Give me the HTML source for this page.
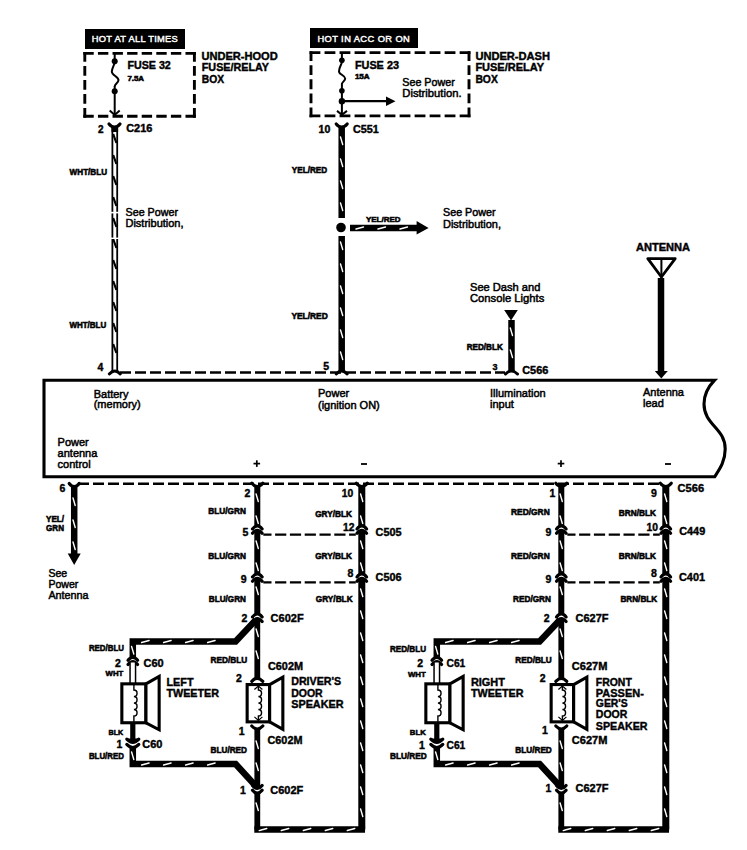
<!DOCTYPE html>
<html><head><meta charset="utf-8"><style>
html,body{margin:0;padding:0;background:#fff;overflow:hidden;}
svg{display:block;font-family:"Liberation Sans", sans-serif;}
</style></head><body>
<svg width="747" height="850" viewBox="0 0 747 850">
<rect width="747" height="850" fill="#fff"/>
<rect x="85" y="29" width="100" height="20" fill="#000"/>
<text x="91.8" y="42.4" font-size="9.3" font-weight="normal" text-anchor="start" fill="#fff" textLength="86" lengthAdjust="spacing" stroke="#fff" stroke-width="0.45" >HOT AT ALL TIMES</text>
<line x1="83.35" y1="53.4" x2="195.85" y2="53.4" stroke="#000" stroke-width="2.9" stroke-linecap="butt" stroke-dasharray="10.39 4.2"/>
<line x1="194.4" y1="51.949999999999996" x2="194.4" y2="117.75" stroke="#000" stroke-width="2.9" stroke-linecap="butt" stroke-dasharray="9.80 4.2"/>
<line x1="83.35" y1="116.3" x2="195.85" y2="116.3" stroke="#000" stroke-width="2.9" stroke-linecap="butt" stroke-dasharray="10.39 4.2"/>
<line x1="84.8" y1="51.949999999999996" x2="84.8" y2="117.75" stroke="#000" stroke-width="2.9" stroke-linecap="butt" stroke-dasharray="9.80 4.2"/>
<line x1="114.7" y1="53.6" x2="114.7" y2="64" stroke="#000" stroke-width="2" stroke-linecap="butt" />
<path d="M114.7,63 C113.5,66 111.8,69 111.8,71.8 C111.8,75 118.5,77 118.5,80 C118.5,83 114.7,84 114.7,86.5" fill="none" stroke="#000" stroke-width="2" stroke-linecap="butt" stroke-linejoin="miter" />
<line x1="114.7" y1="86" x2="114.7" y2="115" stroke="#000" stroke-width="2" stroke-linecap="butt" />
<circle cx="114.7" cy="61.2" r="3"/>
<circle cx="114.7" cy="91.2" r="3"/>
<path d="M109.7,110.5 L114.7,115 L119.7,110.5" fill="none" stroke="#000" stroke-width="2" stroke-linecap="butt" stroke-linejoin="miter" />
<text x="127.4" y="68.9" font-size="10.5" font-weight="bold" text-anchor="start" fill="#000" textLength="43.4" lengthAdjust="spacingAndGlyphs" stroke="#000" stroke-width="0.4" >FUSE 32</text>
<text x="127.4" y="81" font-size="7" font-weight="bold" text-anchor="start" fill="#000" textLength="16.6" lengthAdjust="spacingAndGlyphs" stroke="#000" stroke-width="0.55" >7.5A</text>
<text x="201.4" y="59.7" font-size="10.5" font-weight="bold" text-anchor="start" fill="#000" textLength="76.3" lengthAdjust="spacingAndGlyphs" stroke="#000" stroke-width="0.4" >UNDER-HOOD</text>
<text x="201.8" y="71.1" font-size="10.5" font-weight="bold" text-anchor="start" fill="#000" textLength="67.2" lengthAdjust="spacingAndGlyphs" stroke="#000" stroke-width="0.4" >FUSE/RELAY</text>
<text x="201.8" y="82.5" font-size="10.5" font-weight="bold" text-anchor="start" fill="#000" textLength="22.3" lengthAdjust="spacingAndGlyphs" stroke="#000" stroke-width="0.4" >BOX</text>
<path d="M109.0,124 Q114.5,130.4 120.0,124" fill="none" stroke="#000" stroke-width="3.2" stroke-linecap="round" stroke-linejoin="miter" />
<text x="98" y="132.5" font-size="10" font-weight="bold" text-anchor="start" fill="#000" stroke="#000" stroke-width="0.4" >2</text>
<text x="126.2" y="132.2" font-size="10.5" font-weight="bold" text-anchor="start" fill="#000" textLength="26.2" lengthAdjust="spacingAndGlyphs" stroke="#000" stroke-width="0.4" >C216</text>
<line x1="114.8" y1="127" x2="114.8" y2="371" stroke="#000" stroke-width="6.6" stroke-linecap="butt" />
<line x1="114.8" y1="127" x2="114.8" y2="371" stroke="#fff" stroke-width="3.0" stroke-linecap="butt" />
<line x1="113.2" y1="134" x2="116.39999999999999" y2="143" stroke="#000" stroke-width="2.2" stroke-linecap="butt" />
<line x1="113.2" y1="155" x2="116.39999999999999" y2="164" stroke="#000" stroke-width="2.2" stroke-linecap="butt" />
<line x1="113.2" y1="176" x2="116.39999999999999" y2="185" stroke="#000" stroke-width="2.2" stroke-linecap="butt" />
<line x1="113.2" y1="197" x2="116.39999999999999" y2="206" stroke="#000" stroke-width="2.2" stroke-linecap="butt" />
<line x1="113.2" y1="218" x2="116.39999999999999" y2="227" stroke="#000" stroke-width="2.2" stroke-linecap="butt" />
<line x1="113.2" y1="239" x2="116.39999999999999" y2="248" stroke="#000" stroke-width="2.2" stroke-linecap="butt" />
<line x1="113.2" y1="260" x2="116.39999999999999" y2="269" stroke="#000" stroke-width="2.2" stroke-linecap="butt" />
<line x1="113.2" y1="281" x2="116.39999999999999" y2="290" stroke="#000" stroke-width="2.2" stroke-linecap="butt" />
<line x1="113.2" y1="302" x2="116.39999999999999" y2="311" stroke="#000" stroke-width="2.2" stroke-linecap="butt" />
<line x1="113.2" y1="323" x2="116.39999999999999" y2="332" stroke="#000" stroke-width="2.2" stroke-linecap="butt" />
<line x1="113.2" y1="344" x2="116.39999999999999" y2="353" stroke="#000" stroke-width="2.2" stroke-linecap="butt" />
<line x1="114.8" y1="126" x2="114.8" y2="132" stroke="#000" stroke-width="6.6" stroke-linecap="butt" />
<rect x="110" y="211.8" width="10" height="1.6" fill="#fff"/>
<rect x="110" y="237.6" width="10" height="1.4" fill="#fff"/>
<text x="69.6" y="174.6" font-size="8.5" font-weight="bold" text-anchor="start" fill="#000" textLength="37.5" lengthAdjust="spacingAndGlyphs" stroke="#000" stroke-width="0.55" >WHT/BLU</text>
<text x="69.4" y="327.5" font-size="8.5" font-weight="bold" text-anchor="start" fill="#000" textLength="36.9" lengthAdjust="spacingAndGlyphs" stroke="#000" stroke-width="0.55" >WHT/BLU</text>
<text x="125.5" y="215.7" font-size="11" font-weight="normal" text-anchor="start" fill="#000" textLength="52.5" lengthAdjust="spacingAndGlyphs" stroke="#000" stroke-width="0.5" >See Power</text>
<text x="125.5" y="227.2" font-size="11" font-weight="normal" text-anchor="start" fill="#000" textLength="58" lengthAdjust="spacingAndGlyphs" stroke="#000" stroke-width="0.5" >Distribution,</text>
<rect x="310" y="28" width="108" height="20" fill="#000"/>
<text x="317.4" y="42.2" font-size="9.3" font-weight="normal" text-anchor="start" fill="#fff" textLength="92.4" lengthAdjust="spacing" stroke="#fff" stroke-width="0.45" >HOT IN ACC OR ON</text>
<line x1="309.55" y1="52.6" x2="470.45" y2="52.6" stroke="#000" stroke-width="2.9" stroke-linecap="butt" stroke-dasharray="10.81 4.2"/>
<line x1="469" y1="51.15" x2="469" y2="117.35000000000001" stroke="#000" stroke-width="2.9" stroke-linecap="butt" stroke-dasharray="9.88 4.2"/>
<line x1="309.55" y1="115.9" x2="470.45" y2="115.9" stroke="#000" stroke-width="2.9" stroke-linecap="butt" stroke-dasharray="10.81 4.2"/>
<line x1="311" y1="51.15" x2="311" y2="117.35000000000001" stroke="#000" stroke-width="2.9" stroke-linecap="butt" stroke-dasharray="9.88 4.2"/>
<line x1="341.9" y1="53" x2="341.9" y2="63" stroke="#000" stroke-width="2" stroke-linecap="butt" />
<path d="M341.9,62.5 C341,65 339,68 339,71.4 C339,74.5 345.2,75.5 345.2,78.4 C345.2,81 341.9,82 341.9,84" fill="none" stroke="#000" stroke-width="2" stroke-linecap="butt" stroke-linejoin="miter" />
<line x1="341.9" y1="83.5" x2="341.9" y2="114" stroke="#000" stroke-width="2" stroke-linecap="butt" />
<circle cx="341.9" cy="60.3" r="2.8"/>
<circle cx="341.9" cy="90.8" r="2.8"/>
<circle cx="341.9" cy="101.2" r="3.2"/>
<line x1="342" y1="101.2" x2="388" y2="101.2" stroke="#000" stroke-width="2.3" stroke-linecap="butt" />
<polygon points="386,96.5 395.5,101.2 386,105.9" fill="#000" stroke="none" stroke-width="0" stroke-linejoin="miter"/>
<path d="M337,110.9 L341.9,114.8 L347,110.9" fill="none" stroke="#000" stroke-width="2" stroke-linecap="butt" stroke-linejoin="miter" />
<text x="354.9" y="68.7" font-size="10.5" font-weight="bold" text-anchor="start" fill="#000" textLength="44.1" lengthAdjust="spacingAndGlyphs" stroke="#000" stroke-width="0.4" >FUSE 23</text>
<text x="354.9" y="79.4" font-size="7" font-weight="bold" text-anchor="start" fill="#000" textLength="14.7" lengthAdjust="spacingAndGlyphs" stroke="#000" stroke-width="0.55" >15A</text>
<text x="402.3" y="86.3" font-size="11" font-weight="normal" text-anchor="start" fill="#000" textLength="52.5" lengthAdjust="spacingAndGlyphs" stroke="#000" stroke-width="0.5" >See Power</text>
<text x="402.3" y="97.2" font-size="11" font-weight="normal" text-anchor="start" fill="#000" textLength="59.2" lengthAdjust="spacingAndGlyphs" stroke="#000" stroke-width="0.5" >Distribution.</text>
<text x="475.4" y="59.5" font-size="10.5" font-weight="bold" text-anchor="start" fill="#000" textLength="74.6" lengthAdjust="spacingAndGlyphs" stroke="#000" stroke-width="0.4" >UNDER-DASH</text>
<text x="475.4" y="71.1" font-size="10.5" font-weight="bold" text-anchor="start" fill="#000" textLength="68.6" lengthAdjust="spacingAndGlyphs" stroke="#000" stroke-width="0.4" >FUSE/RELAY</text>
<text x="475.4" y="82.5" font-size="10.5" font-weight="bold" text-anchor="start" fill="#000" textLength="22.4" lengthAdjust="spacingAndGlyphs" stroke="#000" stroke-width="0.4" >BOX</text>
<path d="M336.2,124 Q341.7,130.4 347.2,124" fill="none" stroke="#000" stroke-width="3.2" stroke-linecap="round" stroke-linejoin="miter" />
<text x="318.6" y="133.3" font-size="10" font-weight="bold" text-anchor="start" fill="#000" textLength="11.7" lengthAdjust="spacingAndGlyphs" stroke="#000" stroke-width="0.4" >10</text>
<text x="353" y="132.6" font-size="10.5" font-weight="bold" text-anchor="start" fill="#000" textLength="25.8" lengthAdjust="spacingAndGlyphs" stroke="#000" stroke-width="0.4" >C551</text>
<line x1="341.7" y1="127" x2="341.7" y2="218" stroke="#000" stroke-width="6.5" stroke-linecap="butt" />
<line x1="340.5" y1="137" x2="342.7" y2="144.5" stroke="#fff" stroke-width="1.4" stroke-linecap="round" />
<line x1="340.5" y1="159" x2="342.7" y2="166.5" stroke="#fff" stroke-width="1.4" stroke-linecap="round" />
<line x1="340.5" y1="181" x2="342.7" y2="188.5" stroke="#fff" stroke-width="1.4" stroke-linecap="round" />
<line x1="340.5" y1="203" x2="342.7" y2="210.5" stroke="#fff" stroke-width="1.4" stroke-linecap="round" />
<circle cx="341" cy="227.5" r="4.8"/>
<line x1="341.7" y1="236" x2="341.7" y2="371" stroke="#000" stroke-width="6.5" stroke-linecap="butt" />
<line x1="340.5" y1="242" x2="342.7" y2="249.5" stroke="#fff" stroke-width="1.4" stroke-linecap="round" />
<line x1="340.5" y1="264" x2="342.7" y2="271.5" stroke="#fff" stroke-width="1.4" stroke-linecap="round" />
<line x1="340.5" y1="286" x2="342.7" y2="293.5" stroke="#fff" stroke-width="1.4" stroke-linecap="round" />
<line x1="340.5" y1="308" x2="342.7" y2="315.5" stroke="#fff" stroke-width="1.4" stroke-linecap="round" />
<line x1="340.5" y1="330" x2="342.7" y2="337.5" stroke="#fff" stroke-width="1.4" stroke-linecap="round" />
<line x1="340.5" y1="352" x2="342.7" y2="359.5" stroke="#fff" stroke-width="1.4" stroke-linecap="round" />
<text x="291.8" y="172.5" font-size="8.5" font-weight="bold" text-anchor="start" fill="#000" textLength="35.3" lengthAdjust="spacingAndGlyphs" stroke="#000" stroke-width="0.55" >YEL/RED</text>
<text x="291.4" y="318.9" font-size="8.5" font-weight="bold" text-anchor="start" fill="#000" textLength="36.4" lengthAdjust="spacingAndGlyphs" stroke="#000" stroke-width="0.55" >YEL/RED</text>
<line x1="350" y1="228" x2="418" y2="228" stroke="#000" stroke-width="6.5" stroke-linecap="butt" />
<line x1="356" y1="229.0" x2="363.5" y2="227.0" stroke="#fff" stroke-width="1.4" stroke-linecap="round" />
<line x1="378" y1="229.0" x2="385.5" y2="227.0" stroke="#fff" stroke-width="1.4" stroke-linecap="round" />
<line x1="400" y1="229.0" x2="407.5" y2="227.0" stroke="#fff" stroke-width="1.4" stroke-linecap="round" />
<polygon points="416.6,221 428.6,228 416.6,234.6" fill="#000" stroke="none" stroke-width="0" stroke-linejoin="miter"/>
<text x="366" y="222.3" font-size="8" font-weight="bold" text-anchor="start" fill="#000" textLength="34.5" lengthAdjust="spacingAndGlyphs" stroke="#000" stroke-width="0.55" >YEL/RED</text>
<text x="443" y="216.2" font-size="11" font-weight="normal" text-anchor="start" fill="#000" textLength="52.5" lengthAdjust="spacingAndGlyphs" stroke="#000" stroke-width="0.5" >See Power</text>
<text x="443" y="227.7" font-size="11" font-weight="normal" text-anchor="start" fill="#000" textLength="58" lengthAdjust="spacingAndGlyphs" stroke="#000" stroke-width="0.5" >Distribution,</text>
<text x="470" y="290.7" font-size="11" font-weight="normal" text-anchor="start" fill="#000" textLength="70.3" lengthAdjust="spacingAndGlyphs" stroke="#000" stroke-width="0.5" >See Dash and</text>
<text x="470" y="301.6" font-size="11" font-weight="normal" text-anchor="start" fill="#000" textLength="74.3" lengthAdjust="spacingAndGlyphs" stroke="#000" stroke-width="0.5" >Console Lights</text>
<polygon points="504.2,310.1 517.8,310.1 511,320.4" fill="#000" stroke="none" stroke-width="0" stroke-linejoin="miter"/>
<line x1="511.5" y1="320" x2="511.5" y2="371" stroke="#000" stroke-width="6.5" stroke-linecap="butt" />
<line x1="510.3" y1="328" x2="512.5" y2="335.5" stroke="#fff" stroke-width="1.4" stroke-linecap="round" />
<line x1="510.3" y1="350" x2="512.5" y2="357.5" stroke="#fff" stroke-width="1.4" stroke-linecap="round" />
<text x="466.7" y="349.5" font-size="8.5" font-weight="bold" text-anchor="start" fill="#000" textLength="36.1" lengthAdjust="spacingAndGlyphs" stroke="#000" stroke-width="0.55" >RED/BLK</text>
<text x="492.5" y="369.6" font-size="9" font-weight="bold" text-anchor="start" fill="#000" stroke="#000" stroke-width="0.4" >3</text>
<text x="522.2" y="373.5" font-size="10.5" font-weight="bold" text-anchor="start" fill="#000" textLength="26.2" lengthAdjust="spacingAndGlyphs" stroke="#000" stroke-width="0.4" >C566</text>
<text x="636" y="250.7" font-size="10" font-weight="bold" text-anchor="start" fill="#000" textLength="54" lengthAdjust="spacingAndGlyphs" stroke="#000" stroke-width="0.4" >ANTENNA</text>
<path d="M647.8,258.6 L675.2,258.6 L661.4,277 Z" fill="none" stroke="#000" stroke-width="2.8" stroke-linecap="butt" stroke-linejoin="round" />
<line x1="661.4" y1="258" x2="661.4" y2="278" stroke="#000" stroke-width="2" stroke-linecap="butt" />
<line x1="661" y1="278" x2="661" y2="372" stroke="#000" stroke-width="6.5" stroke-linecap="butt" />
<polygon points="654.8,371 667.8,371 661.3,378.5" fill="#000" stroke="none" stroke-width="0" stroke-linejoin="miter"/>
<line x1="120" y1="372.6" x2="505" y2="372.6" stroke="#000" stroke-width="2.5" stroke-linecap="butt" stroke-dasharray="11 4" stroke-dashoffset="0"/>
<path d="M109.3,374 Q114.8,368 120.3,374" fill="none" stroke="#000" stroke-width="3" stroke-linecap="round" stroke-linejoin="miter" />
<path d="M336.2,374 Q341.7,368 347.2,374" fill="none" stroke="#000" stroke-width="3" stroke-linecap="round" stroke-linejoin="miter" />
<path d="M505.5,374 Q511.5,368 517.5,374" fill="none" stroke="#000" stroke-width="3" stroke-linecap="round" stroke-linejoin="miter" />
<text x="97.5" y="371.2" font-size="10.5" font-weight="bold" text-anchor="start" fill="#000" stroke="#000" stroke-width="0.4" >4</text>
<text x="323.2" y="369.8" font-size="10.5" font-weight="bold" text-anchor="start" fill="#000" stroke="#000" stroke-width="0.4" >5</text>
<path d="M44,380.2 L714.6,380.2 C709,386 704,395 704,404 C704,425 725.2,428 725.2,449 C725.2,462 719,470 714.6,476.8 L44,476.8 Z" fill="none" stroke="#000" stroke-width="3.1" stroke-linecap="butt" stroke-linejoin="miter" />
<text x="93.7" y="397.5" font-size="11" font-weight="normal" text-anchor="start" fill="#000" stroke="#000" stroke-width="0.5" >Battery</text>
<text x="93.7" y="408.3" font-size="11" font-weight="normal" text-anchor="start" fill="#000" stroke="#000" stroke-width="0.5" >(memory)</text>
<text x="318" y="396.7" font-size="11" font-weight="normal" text-anchor="start" fill="#000" stroke="#000" stroke-width="0.5" >Power</text>
<text x="318" y="408.7" font-size="11" font-weight="normal" text-anchor="start" fill="#000" stroke="#000" stroke-width="0.5" >(ignition ON)</text>
<text x="490" y="396.7" font-size="11" font-weight="normal" text-anchor="start" fill="#000" stroke="#000" stroke-width="0.5" >Illumination</text>
<text x="490" y="408.3" font-size="11" font-weight="normal" text-anchor="start" fill="#000" stroke="#000" stroke-width="0.5" >input</text>
<text x="643" y="396" font-size="11" font-weight="normal" text-anchor="start" fill="#000" stroke="#000" stroke-width="0.5" >Antenna</text>
<text x="643" y="407" font-size="11" font-weight="normal" text-anchor="start" fill="#000" stroke="#000" stroke-width="0.5" >lead</text>
<text x="57.6" y="446" font-size="11" font-weight="normal" text-anchor="start" fill="#000" stroke="#000" stroke-width="0.5" >Power</text>
<text x="57.6" y="456.8" font-size="11" font-weight="normal" text-anchor="start" fill="#000" stroke="#000" stroke-width="0.5" >antenna</text>
<text x="57.6" y="467.6" font-size="11" font-weight="normal" text-anchor="start" fill="#000" stroke="#000" stroke-width="0.5" >control</text>
<line x1="253.5" y1="463.6" x2="260.1" y2="463.6" stroke="#000" stroke-width="1.7" stroke-linecap="butt" />
<line x1="256.8" y1="460.3" x2="256.8" y2="466.9" stroke="#000" stroke-width="1.7" stroke-linecap="butt" />
<line x1="361" y1="464" x2="367" y2="464" stroke="#000" stroke-width="1.8" stroke-linecap="butt" />
<line x1="557.7" y1="463.6" x2="564.3" y2="463.6" stroke="#000" stroke-width="1.7" stroke-linecap="butt" />
<line x1="561" y1="460.3" x2="561" y2="466.9" stroke="#000" stroke-width="1.7" stroke-linecap="butt" />
<line x1="665" y1="464" x2="671" y2="464" stroke="#000" stroke-width="1.8" stroke-linecap="butt" />
<line x1="78" y1="483.7" x2="662" y2="483.7" stroke="#000" stroke-width="2.5" stroke-linecap="butt" stroke-dasharray="11 4" stroke-dashoffset="0"/>
<path d="M69.2,483.5 Q74.2,489.9 79.2,483.5" fill="none" stroke="#000" stroke-width="3.2" stroke-linecap="round" stroke-linejoin="miter" />
<line x1="74.2" y1="486" x2="74.2" y2="555" stroke="#000" stroke-width="6.5" stroke-linecap="butt" />
<line x1="73.0" y1="498" x2="75.2" y2="505.5" stroke="#fff" stroke-width="1.4" stroke-linecap="round" />
<line x1="73.0" y1="520" x2="75.2" y2="527.5" stroke="#fff" stroke-width="1.4" stroke-linecap="round" />
<line x1="73.0" y1="542" x2="75.2" y2="549.5" stroke="#fff" stroke-width="1.4" stroke-linecap="round" />
<polygon points="67.7,553.5 80.7,553.5 74.2,565" fill="#000" stroke="none" stroke-width="0" stroke-linejoin="miter"/>
<text x="59.6" y="492.2" font-size="10.5" font-weight="bold" text-anchor="start" fill="#000" stroke="#000" stroke-width="0.4" >6</text>
<text x="46" y="521.5" font-size="8.5" font-weight="bold" text-anchor="start" fill="#000" textLength="18" lengthAdjust="spacingAndGlyphs" stroke="#000" stroke-width="0.55" >YEL/</text>
<text x="46" y="530.8" font-size="8.5" font-weight="bold" text-anchor="start" fill="#000" textLength="18" lengthAdjust="spacingAndGlyphs" stroke="#000" stroke-width="0.55" >GRN</text>
<text x="48.4" y="577" font-size="11" font-weight="normal" text-anchor="start" fill="#000" textLength="18.8" lengthAdjust="spacingAndGlyphs" stroke="#000" stroke-width="0.5" >See</text>
<text x="48.4" y="587.8" font-size="11" font-weight="normal" text-anchor="start" fill="#000" textLength="30" lengthAdjust="spacingAndGlyphs" stroke="#000" stroke-width="0.5" >Power</text>
<text x="48.4" y="599.3" font-size="11" font-weight="normal" text-anchor="start" fill="#000" textLength="40.2" lengthAdjust="spacingAndGlyphs" stroke="#000" stroke-width="0.5" >Antenna</text>
<path d="M251.8,483.3 Q257.3,489.7 262.8,483.3" fill="none" stroke="#000" stroke-width="3.2" stroke-linecap="round" stroke-linejoin="miter" />
<path d="M356.3,483.3 Q361.8,489.7 367.3,483.3" fill="none" stroke="#000" stroke-width="3.2" stroke-linecap="round" stroke-linejoin="miter" />
<line x1="257.3" y1="486" x2="257.3" y2="527" stroke="#000" stroke-width="6" stroke-linecap="butt" />
<line x1="256.1" y1="494" x2="258.3" y2="501.5" stroke="#fff" stroke-width="1.4" stroke-linecap="round" />
<line x1="256.1" y1="516" x2="258.3" y2="523.5" stroke="#fff" stroke-width="1.4" stroke-linecap="round" />
<path d="M252.5,528.9 Q257.3,522.9 262.1,528.9" fill="none" stroke="#000" stroke-width="3.2" stroke-linecap="round" stroke-linejoin="miter" />
<path d="M252.5,533.3 Q257.3,527.3 262.1,533.3" fill="none" stroke="#000" stroke-width="3.2" stroke-linecap="round" stroke-linejoin="miter" />
<line x1="257.3" y1="531" x2="257.3" y2="575" stroke="#000" stroke-width="6" stroke-linecap="butt" />
<line x1="256.1" y1="541" x2="258.3" y2="548.5" stroke="#fff" stroke-width="1.4" stroke-linecap="round" />
<line x1="256.1" y1="563" x2="258.3" y2="570.5" stroke="#fff" stroke-width="1.4" stroke-linecap="round" />
<path d="M252.5,576.9 Q257.3,570.9 262.1,576.9" fill="none" stroke="#000" stroke-width="3.2" stroke-linecap="round" stroke-linejoin="miter" />
<path d="M252.5,581.3 Q257.3,575.3 262.1,581.3" fill="none" stroke="#000" stroke-width="3.2" stroke-linecap="round" stroke-linejoin="miter" />
<line x1="257.3" y1="579" x2="257.3" y2="615" stroke="#000" stroke-width="6" stroke-linecap="butt" />
<line x1="256.1" y1="587" x2="258.3" y2="594.5" stroke="#fff" stroke-width="1.4" stroke-linecap="round" />
<path d="M252.5,616.9 Q257.3,610.9 262.1,616.9" fill="none" stroke="#000" stroke-width="3.2" stroke-linecap="round" stroke-linejoin="miter" />
<path d="M252.5,621.6 Q257.3,615.6 262.1,621.6" fill="none" stroke="#000" stroke-width="3.2" stroke-linecap="round" stroke-linejoin="miter" />
<line x1="361.8" y1="486" x2="361.8" y2="527" stroke="#000" stroke-width="7" stroke-linecap="butt" />
<line x1="360.6" y1="494" x2="362.8" y2="501.5" stroke="#fff" stroke-width="1.4" stroke-linecap="round" />
<line x1="360.6" y1="516" x2="362.8" y2="523.5" stroke="#fff" stroke-width="1.4" stroke-linecap="round" />
<path d="M357.0,528.9 Q361.8,522.9 366.6,528.9" fill="none" stroke="#000" stroke-width="3.2" stroke-linecap="round" stroke-linejoin="miter" />
<path d="M357.0,533.3 Q361.8,527.3 366.6,533.3" fill="none" stroke="#000" stroke-width="3.2" stroke-linecap="round" stroke-linejoin="miter" />
<line x1="361.8" y1="531" x2="361.8" y2="575" stroke="#000" stroke-width="7" stroke-linecap="butt" />
<line x1="360.6" y1="541" x2="362.8" y2="548.5" stroke="#fff" stroke-width="1.4" stroke-linecap="round" />
<line x1="360.6" y1="563" x2="362.8" y2="570.5" stroke="#fff" stroke-width="1.4" stroke-linecap="round" />
<path d="M357.0,576.9 Q361.8,570.9 366.6,576.9" fill="none" stroke="#000" stroke-width="3.2" stroke-linecap="round" stroke-linejoin="miter" />
<path d="M357.0,581.3 Q361.8,575.3 366.6,581.3" fill="none" stroke="#000" stroke-width="3.2" stroke-linecap="round" stroke-linejoin="miter" />
<line x1="263.3" y1="534.6" x2="355.8" y2="534.6" stroke="#000" stroke-width="2.3" stroke-linecap="butt" stroke-dasharray="11.2 3.6" stroke-dashoffset="3"/>
<line x1="263.3" y1="582.3" x2="355.8" y2="582.3" stroke="#000" stroke-width="2.3" stroke-linecap="butt" stroke-dasharray="11.2 3.6" stroke-dashoffset="3"/>
<line x1="361.8" y1="579" x2="361.8" y2="829.5" stroke="#000" stroke-width="7" stroke-linecap="butt" />
<line x1="360.6" y1="589" x2="362.8" y2="596.5" stroke="#fff" stroke-width="1.4" stroke-linecap="round" />
<line x1="360.6" y1="611" x2="362.8" y2="618.5" stroke="#fff" stroke-width="1.4" stroke-linecap="round" />
<line x1="360.6" y1="633" x2="362.8" y2="640.5" stroke="#fff" stroke-width="1.4" stroke-linecap="round" />
<line x1="360.6" y1="655" x2="362.8" y2="662.5" stroke="#fff" stroke-width="1.4" stroke-linecap="round" />
<line x1="360.6" y1="677" x2="362.8" y2="684.5" stroke="#fff" stroke-width="1.4" stroke-linecap="round" />
<line x1="360.6" y1="699" x2="362.8" y2="706.5" stroke="#fff" stroke-width="1.4" stroke-linecap="round" />
<line x1="360.6" y1="721" x2="362.8" y2="728.5" stroke="#fff" stroke-width="1.4" stroke-linecap="round" />
<line x1="360.6" y1="743" x2="362.8" y2="750.5" stroke="#fff" stroke-width="1.4" stroke-linecap="round" />
<line x1="360.6" y1="765" x2="362.8" y2="772.5" stroke="#fff" stroke-width="1.4" stroke-linecap="round" />
<line x1="360.6" y1="787" x2="362.8" y2="794.5" stroke="#fff" stroke-width="1.4" stroke-linecap="round" />
<line x1="360.6" y1="809" x2="362.8" y2="816.5" stroke="#fff" stroke-width="1.4" stroke-linecap="round" />
<line x1="254.3" y1="829.5" x2="365.05" y2="829.5" stroke="#000" stroke-width="6.5" stroke-linecap="butt" />
<line x1="259.3" y1="830.5" x2="266.8" y2="828.5" stroke="#fff" stroke-width="1.4" stroke-linecap="round" />
<line x1="281.3" y1="830.5" x2="288.8" y2="828.5" stroke="#fff" stroke-width="1.4" stroke-linecap="round" />
<line x1="303.3" y1="830.5" x2="310.8" y2="828.5" stroke="#fff" stroke-width="1.4" stroke-linecap="round" />
<line x1="325.3" y1="830.5" x2="332.8" y2="828.5" stroke="#fff" stroke-width="1.4" stroke-linecap="round" />
<line x1="347.3" y1="830.5" x2="354.8" y2="828.5" stroke="#fff" stroke-width="1.4" stroke-linecap="round" />
<line x1="257.3" y1="619" x2="257.3" y2="679" stroke="#000" stroke-width="5.8" stroke-linecap="butt" />
<line x1="256.1" y1="629" x2="258.3" y2="636.5" stroke="#fff" stroke-width="1.4" stroke-linecap="round" />
<line x1="256.1" y1="651" x2="258.3" y2="658.5" stroke="#fff" stroke-width="1.4" stroke-linecap="round" />
<rect x="247.15" y="684.55" width="22.49999999999997" height="37.30000000000007" fill="#fff" stroke="#000" stroke-width="3.1"/>
<polygon points="269.65,684.55 282.84999999999997,677.15 282.84999999999997,729.25 269.65,721.85" fill="#fff" stroke="#000" stroke-width="3.1" stroke-linejoin="miter"/>
<path d="M258.4,685.55 L258.4,690 C262.59999999999997,690 262.59999999999997,696.5 258.4,696.5 C262.59999999999997,696.5 262.59999999999997,703.0 258.4,703.0 C262.59999999999997,703.0 262.59999999999997,709.5 258.4,709.5 C262.59999999999997,709.5 262.59999999999997,716.0 258.4,716.0 L258.4,720.85" fill="none" stroke="#000" stroke-width="1.4" stroke-linecap="butt" stroke-linejoin="miter" />
<path d="M254.39999999999998,689.55 L258.4,686.05 L262.4,689.55" fill="none" stroke="#000" stroke-width="1.2" stroke-linecap="butt" stroke-linejoin="miter" />
<path d="M254.39999999999998,716.85 L258.4,720.35 L262.4,716.85" fill="none" stroke="#000" stroke-width="1.2" stroke-linecap="butt" stroke-linejoin="miter" />
<path d="M251.8,681.3 Q257.3,675.3 262.8,681.3" fill="none" stroke="#000" stroke-width="3.2" stroke-linecap="round" stroke-linejoin="miter" />
<path d="M251.8,726 Q257.3,732 262.8,726" fill="none" stroke="#000" stroke-width="3.2" stroke-linecap="round" stroke-linejoin="miter" />
<line x1="257.3" y1="729" x2="257.3" y2="788" stroke="#000" stroke-width="5.8" stroke-linecap="butt" />
<line x1="256.1" y1="741" x2="258.3" y2="748.5" stroke="#fff" stroke-width="1.4" stroke-linecap="round" />
<line x1="256.1" y1="763" x2="258.3" y2="770.5" stroke="#fff" stroke-width="1.4" stroke-linecap="round" />
<path d="M252.5,785.5 Q257.3,791.5 262.1,785.5" fill="none" stroke="#000" stroke-width="3.2" stroke-linecap="round" stroke-linejoin="miter" />
<path d="M252.5,790.2 Q257.3,796.2 262.1,790.2" fill="none" stroke="#000" stroke-width="3.2" stroke-linecap="round" stroke-linejoin="miter" />
<line x1="257.3" y1="793" x2="257.3" y2="829.5" stroke="#000" stroke-width="5.8" stroke-linecap="butt" />
<line x1="256.1" y1="803" x2="258.3" y2="810.5" stroke="#fff" stroke-width="1.4" stroke-linecap="round" />
<path d="M132.8,658 L132.8,641.5 L235.60000000000002,641.5 L255.8,620" fill="none" stroke="#000" stroke-width="6.5" stroke-linecap="butt" stroke-linejoin="miter" />
<line x1="141.60000000000002" y1="642.5" x2="149.10000000000002" y2="640.5" stroke="#fff" stroke-width="1.4" stroke-linecap="round" />
<line x1="163.60000000000002" y1="642.5" x2="171.10000000000002" y2="640.5" stroke="#fff" stroke-width="1.4" stroke-linecap="round" />
<line x1="185.60000000000002" y1="642.5" x2="193.10000000000002" y2="640.5" stroke="#fff" stroke-width="1.4" stroke-linecap="round" />
<line x1="207.60000000000002" y1="642.5" x2="215.10000000000002" y2="640.5" stroke="#fff" stroke-width="1.4" stroke-linecap="round" />
<line x1="131.60000000000002" y1="646.5" x2="133.8" y2="654.0" stroke="#fff" stroke-width="1.4" stroke-linecap="round" />
<path d="M128.0,660.3 Q132.8,654.3 137.60000000000002,660.3" fill="none" stroke="#000" stroke-width="3.2" stroke-linecap="round" stroke-linejoin="miter" />
<path d="M128.0,664.6 Q132.8,658.6 137.60000000000002,664.6" fill="none" stroke="#000" stroke-width="3.2" stroke-linecap="round" stroke-linejoin="miter" />
<line x1="132.8" y1="662.5" x2="132.8" y2="683" stroke="#000" stroke-width="7" stroke-linecap="butt" />
<line x1="132.8" y1="662.5" x2="132.8" y2="683" stroke="#fff" stroke-width="4" stroke-linecap="butt" />
<rect x="121.85" y="683.8499999999999" width="24.099999999999994" height="38.90000000000009" fill="#fff" stroke="#000" stroke-width="3.1"/>
<polygon points="145.95,683.8499999999999 159.14999999999998,676.4499999999999 159.14999999999998,729.75 145.95,722.75" fill="#fff" stroke="#000" stroke-width="3.1" stroke-linejoin="miter"/>
<path d="M133.89999999999998,684.8499999999999 L133.89999999999998,690 C138.09999999999997,690 138.09999999999997,696.5 133.89999999999998,696.5 C138.09999999999997,696.5 138.09999999999997,703.0 133.89999999999998,703.0 C138.09999999999997,703.0 138.09999999999997,709.5 133.89999999999998,709.5 C138.09999999999997,709.5 138.09999999999997,716.0 133.89999999999998,716.0 L133.89999999999998,721.75" fill="none" stroke="#000" stroke-width="1.4" stroke-linecap="butt" stroke-linejoin="miter" />
<line x1="132.8" y1="724" x2="132.8" y2="740" stroke="#000" stroke-width="5.2" stroke-linecap="butt" />
<polygon points="126.80000000000001,738.5 138.8,738.5 135.8,741.5 132.8,742.5 129.8,741.5" fill="#000" stroke="none" stroke-width="0" stroke-linejoin="miter"/>
<path d="M126.80000000000001,739.0999999999999 Q132.8,745.5 138.8,739.0999999999999" fill="none" stroke="#000" stroke-width="3.2" stroke-linecap="round" stroke-linejoin="miter" />
<path d="M126.80000000000001,744.4 Q132.8,750.8000000000001 138.8,744.4" fill="none" stroke="#000" stroke-width="3.2" stroke-linecap="round" stroke-linejoin="miter" />
<path d="M132.8,746 L132.8,764 L235.60000000000002,764 L255.8,786" fill="none" stroke="#000" stroke-width="6.5" stroke-linecap="butt" stroke-linejoin="miter" />
<line x1="131.60000000000002" y1="752" x2="133.8" y2="759.5" stroke="#fff" stroke-width="1.4" stroke-linecap="round" />
<line x1="141.60000000000002" y1="765.0" x2="149.10000000000002" y2="763.0" stroke="#fff" stroke-width="1.4" stroke-linecap="round" />
<line x1="163.60000000000002" y1="765.0" x2="171.10000000000002" y2="763.0" stroke="#fff" stroke-width="1.4" stroke-linecap="round" />
<line x1="185.60000000000002" y1="765.0" x2="193.10000000000002" y2="763.0" stroke="#fff" stroke-width="1.4" stroke-linecap="round" />
<line x1="207.60000000000002" y1="765.0" x2="215.10000000000002" y2="763.0" stroke="#fff" stroke-width="1.4" stroke-linecap="round" />
<path d="M555.8,483.3 Q561.3,489.7 566.8,483.3" fill="none" stroke="#000" stroke-width="3.2" stroke-linecap="round" stroke-linejoin="miter" />
<path d="M660.3,483.3 Q665.8,489.7 671.3,483.3" fill="none" stroke="#000" stroke-width="3.2" stroke-linecap="round" stroke-linejoin="miter" />
<line x1="561.3" y1="486" x2="561.3" y2="527" stroke="#000" stroke-width="6" stroke-linecap="butt" />
<line x1="560.0999999999999" y1="494" x2="562.3" y2="501.5" stroke="#fff" stroke-width="1.4" stroke-linecap="round" />
<line x1="560.0999999999999" y1="516" x2="562.3" y2="523.5" stroke="#fff" stroke-width="1.4" stroke-linecap="round" />
<path d="M556.5,528.9 Q561.3,522.9 566.0999999999999,528.9" fill="none" stroke="#000" stroke-width="3.2" stroke-linecap="round" stroke-linejoin="miter" />
<path d="M556.5,533.3 Q561.3,527.3 566.0999999999999,533.3" fill="none" stroke="#000" stroke-width="3.2" stroke-linecap="round" stroke-linejoin="miter" />
<line x1="561.3" y1="531" x2="561.3" y2="575" stroke="#000" stroke-width="6" stroke-linecap="butt" />
<line x1="560.0999999999999" y1="541" x2="562.3" y2="548.5" stroke="#fff" stroke-width="1.4" stroke-linecap="round" />
<line x1="560.0999999999999" y1="563" x2="562.3" y2="570.5" stroke="#fff" stroke-width="1.4" stroke-linecap="round" />
<path d="M556.5,576.9 Q561.3,570.9 566.0999999999999,576.9" fill="none" stroke="#000" stroke-width="3.2" stroke-linecap="round" stroke-linejoin="miter" />
<path d="M556.5,581.3 Q561.3,575.3 566.0999999999999,581.3" fill="none" stroke="#000" stroke-width="3.2" stroke-linecap="round" stroke-linejoin="miter" />
<line x1="561.3" y1="579" x2="561.3" y2="615" stroke="#000" stroke-width="6" stroke-linecap="butt" />
<line x1="560.0999999999999" y1="587" x2="562.3" y2="594.5" stroke="#fff" stroke-width="1.4" stroke-linecap="round" />
<path d="M556.5,616.9 Q561.3,610.9 566.0999999999999,616.9" fill="none" stroke="#000" stroke-width="3.2" stroke-linecap="round" stroke-linejoin="miter" />
<path d="M556.5,621.6 Q561.3,615.6 566.0999999999999,621.6" fill="none" stroke="#000" stroke-width="3.2" stroke-linecap="round" stroke-linejoin="miter" />
<line x1="665.8" y1="486" x2="665.8" y2="527" stroke="#000" stroke-width="7" stroke-linecap="butt" />
<line x1="664.5999999999999" y1="494" x2="666.8" y2="501.5" stroke="#fff" stroke-width="1.4" stroke-linecap="round" />
<line x1="664.5999999999999" y1="516" x2="666.8" y2="523.5" stroke="#fff" stroke-width="1.4" stroke-linecap="round" />
<path d="M661.0,528.9 Q665.8,522.9 670.5999999999999,528.9" fill="none" stroke="#000" stroke-width="3.2" stroke-linecap="round" stroke-linejoin="miter" />
<path d="M661.0,533.3 Q665.8,527.3 670.5999999999999,533.3" fill="none" stroke="#000" stroke-width="3.2" stroke-linecap="round" stroke-linejoin="miter" />
<line x1="665.8" y1="531" x2="665.8" y2="575" stroke="#000" stroke-width="7" stroke-linecap="butt" />
<line x1="664.5999999999999" y1="541" x2="666.8" y2="548.5" stroke="#fff" stroke-width="1.4" stroke-linecap="round" />
<line x1="664.5999999999999" y1="563" x2="666.8" y2="570.5" stroke="#fff" stroke-width="1.4" stroke-linecap="round" />
<path d="M661.0,576.9 Q665.8,570.9 670.5999999999999,576.9" fill="none" stroke="#000" stroke-width="3.2" stroke-linecap="round" stroke-linejoin="miter" />
<path d="M661.0,581.3 Q665.8,575.3 670.5999999999999,581.3" fill="none" stroke="#000" stroke-width="3.2" stroke-linecap="round" stroke-linejoin="miter" />
<line x1="567.3" y1="534.6" x2="659.8" y2="534.6" stroke="#000" stroke-width="2.3" stroke-linecap="butt" stroke-dasharray="11.2 3.6" stroke-dashoffset="3"/>
<line x1="567.3" y1="582.3" x2="659.8" y2="582.3" stroke="#000" stroke-width="2.3" stroke-linecap="butt" stroke-dasharray="11.2 3.6" stroke-dashoffset="3"/>
<line x1="665.8" y1="579" x2="665.8" y2="829.5" stroke="#000" stroke-width="7" stroke-linecap="butt" />
<line x1="664.5999999999999" y1="589" x2="666.8" y2="596.5" stroke="#fff" stroke-width="1.4" stroke-linecap="round" />
<line x1="664.5999999999999" y1="611" x2="666.8" y2="618.5" stroke="#fff" stroke-width="1.4" stroke-linecap="round" />
<line x1="664.5999999999999" y1="633" x2="666.8" y2="640.5" stroke="#fff" stroke-width="1.4" stroke-linecap="round" />
<line x1="664.5999999999999" y1="655" x2="666.8" y2="662.5" stroke="#fff" stroke-width="1.4" stroke-linecap="round" />
<line x1="664.5999999999999" y1="677" x2="666.8" y2="684.5" stroke="#fff" stroke-width="1.4" stroke-linecap="round" />
<line x1="664.5999999999999" y1="699" x2="666.8" y2="706.5" stroke="#fff" stroke-width="1.4" stroke-linecap="round" />
<line x1="664.5999999999999" y1="721" x2="666.8" y2="728.5" stroke="#fff" stroke-width="1.4" stroke-linecap="round" />
<line x1="664.5999999999999" y1="743" x2="666.8" y2="750.5" stroke="#fff" stroke-width="1.4" stroke-linecap="round" />
<line x1="664.5999999999999" y1="765" x2="666.8" y2="772.5" stroke="#fff" stroke-width="1.4" stroke-linecap="round" />
<line x1="664.5999999999999" y1="787" x2="666.8" y2="794.5" stroke="#fff" stroke-width="1.4" stroke-linecap="round" />
<line x1="664.5999999999999" y1="809" x2="666.8" y2="816.5" stroke="#fff" stroke-width="1.4" stroke-linecap="round" />
<line x1="558.3" y1="829.5" x2="669.05" y2="829.5" stroke="#000" stroke-width="6.5" stroke-linecap="butt" />
<line x1="563.3" y1="830.5" x2="570.8" y2="828.5" stroke="#fff" stroke-width="1.4" stroke-linecap="round" />
<line x1="585.3" y1="830.5" x2="592.8" y2="828.5" stroke="#fff" stroke-width="1.4" stroke-linecap="round" />
<line x1="607.3" y1="830.5" x2="614.8" y2="828.5" stroke="#fff" stroke-width="1.4" stroke-linecap="round" />
<line x1="629.3" y1="830.5" x2="636.8" y2="828.5" stroke="#fff" stroke-width="1.4" stroke-linecap="round" />
<line x1="651.3" y1="830.5" x2="658.8" y2="828.5" stroke="#fff" stroke-width="1.4" stroke-linecap="round" />
<line x1="561.3" y1="619" x2="561.3" y2="679" stroke="#000" stroke-width="5.8" stroke-linecap="butt" />
<line x1="560.0999999999999" y1="629" x2="562.3" y2="636.5" stroke="#fff" stroke-width="1.4" stroke-linecap="round" />
<line x1="560.0999999999999" y1="651" x2="562.3" y2="658.5" stroke="#fff" stroke-width="1.4" stroke-linecap="round" />
<rect x="551.15" y="684.55" width="22.500000000000114" height="37.30000000000007" fill="#fff" stroke="#000" stroke-width="3.1"/>
<polygon points="573.6500000000001,684.55 586.85,677.15 586.85,729.25 573.6500000000001,721.85" fill="#fff" stroke="#000" stroke-width="3.1" stroke-linejoin="miter"/>
<path d="M562.4000000000001,685.55 L562.4000000000001,690 C566.6000000000001,690 566.6000000000001,696.5 562.4000000000001,696.5 C566.6000000000001,696.5 566.6000000000001,703.0 562.4000000000001,703.0 C566.6000000000001,703.0 566.6000000000001,709.5 562.4000000000001,709.5 C566.6000000000001,709.5 566.6000000000001,716.0 562.4000000000001,716.0 L562.4000000000001,720.85" fill="none" stroke="#000" stroke-width="1.4" stroke-linecap="butt" stroke-linejoin="miter" />
<path d="M558.4000000000001,689.55 L562.4000000000001,686.05 L566.4000000000001,689.55" fill="none" stroke="#000" stroke-width="1.2" stroke-linecap="butt" stroke-linejoin="miter" />
<path d="M558.4000000000001,716.85 L562.4000000000001,720.35 L566.4000000000001,716.85" fill="none" stroke="#000" stroke-width="1.2" stroke-linecap="butt" stroke-linejoin="miter" />
<path d="M555.8,681.3 Q561.3,675.3 566.8,681.3" fill="none" stroke="#000" stroke-width="3.2" stroke-linecap="round" stroke-linejoin="miter" />
<path d="M555.8,726 Q561.3,732 566.8,726" fill="none" stroke="#000" stroke-width="3.2" stroke-linecap="round" stroke-linejoin="miter" />
<line x1="561.3" y1="729" x2="561.3" y2="788" stroke="#000" stroke-width="5.8" stroke-linecap="butt" />
<line x1="560.0999999999999" y1="741" x2="562.3" y2="748.5" stroke="#fff" stroke-width="1.4" stroke-linecap="round" />
<line x1="560.0999999999999" y1="763" x2="562.3" y2="770.5" stroke="#fff" stroke-width="1.4" stroke-linecap="round" />
<path d="M556.5,785.5 Q561.3,791.5 566.0999999999999,785.5" fill="none" stroke="#000" stroke-width="3.2" stroke-linecap="round" stroke-linejoin="miter" />
<path d="M556.5,790.2 Q561.3,796.2 566.0999999999999,790.2" fill="none" stroke="#000" stroke-width="3.2" stroke-linecap="round" stroke-linejoin="miter" />
<line x1="561.3" y1="793" x2="561.3" y2="829.5" stroke="#000" stroke-width="5.8" stroke-linecap="butt" />
<line x1="560.0999999999999" y1="803" x2="562.3" y2="810.5" stroke="#fff" stroke-width="1.4" stroke-linecap="round" />
<path d="M436.8,658 L436.8,641.5 L539.5999999999999,641.5 L559.8,620" fill="none" stroke="#000" stroke-width="6.5" stroke-linecap="butt" stroke-linejoin="miter" />
<line x1="445.6" y1="642.5" x2="453.1" y2="640.5" stroke="#fff" stroke-width="1.4" stroke-linecap="round" />
<line x1="467.6" y1="642.5" x2="475.1" y2="640.5" stroke="#fff" stroke-width="1.4" stroke-linecap="round" />
<line x1="489.6" y1="642.5" x2="497.1" y2="640.5" stroke="#fff" stroke-width="1.4" stroke-linecap="round" />
<line x1="511.6" y1="642.5" x2="519.1" y2="640.5" stroke="#fff" stroke-width="1.4" stroke-linecap="round" />
<line x1="435.6" y1="646.5" x2="437.8" y2="654.0" stroke="#fff" stroke-width="1.4" stroke-linecap="round" />
<path d="M432.0,660.3 Q436.8,654.3 441.6,660.3" fill="none" stroke="#000" stroke-width="3.2" stroke-linecap="round" stroke-linejoin="miter" />
<path d="M432.0,664.6 Q436.8,658.6 441.6,664.6" fill="none" stroke="#000" stroke-width="3.2" stroke-linecap="round" stroke-linejoin="miter" />
<line x1="436.8" y1="662.5" x2="436.8" y2="683" stroke="#000" stroke-width="7" stroke-linecap="butt" />
<line x1="436.8" y1="662.5" x2="436.8" y2="683" stroke="#fff" stroke-width="4" stroke-linecap="butt" />
<rect x="425.85" y="683.8499999999999" width="24.099999999999966" height="38.90000000000009" fill="#fff" stroke="#000" stroke-width="3.1"/>
<polygon points="449.95,683.8499999999999 463.15,676.4499999999999 463.15,729.75 449.95,722.75" fill="#fff" stroke="#000" stroke-width="3.1" stroke-linejoin="miter"/>
<path d="M437.9,684.8499999999999 L437.9,690 C442.09999999999997,690 442.09999999999997,696.5 437.9,696.5 C442.09999999999997,696.5 442.09999999999997,703.0 437.9,703.0 C442.09999999999997,703.0 442.09999999999997,709.5 437.9,709.5 C442.09999999999997,709.5 442.09999999999997,716.0 437.9,716.0 L437.9,721.75" fill="none" stroke="#000" stroke-width="1.4" stroke-linecap="butt" stroke-linejoin="miter" />
<line x1="436.8" y1="724" x2="436.8" y2="740" stroke="#000" stroke-width="5.2" stroke-linecap="butt" />
<polygon points="430.8,738.5 442.8,738.5 439.8,741.5 436.8,742.5 433.8,741.5" fill="#000" stroke="none" stroke-width="0" stroke-linejoin="miter"/>
<path d="M430.8,739.0999999999999 Q436.8,745.5 442.8,739.0999999999999" fill="none" stroke="#000" stroke-width="3.2" stroke-linecap="round" stroke-linejoin="miter" />
<path d="M430.8,744.4 Q436.8,750.8000000000001 442.8,744.4" fill="none" stroke="#000" stroke-width="3.2" stroke-linecap="round" stroke-linejoin="miter" />
<path d="M436.8,746 L436.8,764 L539.5999999999999,764 L559.8,786" fill="none" stroke="#000" stroke-width="6.5" stroke-linecap="butt" stroke-linejoin="miter" />
<line x1="435.6" y1="752" x2="437.8" y2="759.5" stroke="#fff" stroke-width="1.4" stroke-linecap="round" />
<line x1="445.6" y1="765.0" x2="453.1" y2="763.0" stroke="#fff" stroke-width="1.4" stroke-linecap="round" />
<line x1="467.6" y1="765.0" x2="475.1" y2="763.0" stroke="#fff" stroke-width="1.4" stroke-linecap="round" />
<line x1="489.6" y1="765.0" x2="497.1" y2="763.0" stroke="#fff" stroke-width="1.4" stroke-linecap="round" />
<line x1="511.6" y1="765.0" x2="519.1" y2="763.0" stroke="#fff" stroke-width="1.4" stroke-linecap="round" />
<text x="244.5" y="497.2" font-size="10.5" font-weight="bold" text-anchor="start" fill="#000" stroke="#000" stroke-width="0.4" >2</text>
<text x="341.7" y="497.2" font-size="10.5" font-weight="bold" text-anchor="start" fill="#000" textLength="11.5" lengthAdjust="spacingAndGlyphs" stroke="#000" stroke-width="0.4" >10</text>
<text x="208.3" y="514.4" font-size="8.5" font-weight="bold" text-anchor="start" fill="#000" textLength="37.7" lengthAdjust="spacingAndGlyphs" stroke="#000" stroke-width="0.55" >BLU/GRN</text>
<text x="315.2" y="516.8" font-size="8.5" font-weight="bold" text-anchor="start" fill="#000" textLength="36.8" lengthAdjust="spacingAndGlyphs" stroke="#000" stroke-width="0.55" >GRY/BLK</text>
<text x="242.4" y="535.5" font-size="10.5" font-weight="bold" text-anchor="start" fill="#000" stroke="#000" stroke-width="0.4" >5</text>
<text x="343" y="531" font-size="10.5" font-weight="bold" text-anchor="start" fill="#000" textLength="11.5" lengthAdjust="spacingAndGlyphs" stroke="#000" stroke-width="0.4" >12</text>
<text x="375.6" y="535.5" font-size="10.5" font-weight="bold" text-anchor="start" fill="#000" textLength="26" lengthAdjust="spacingAndGlyphs" stroke="#000" stroke-width="0.4" >C505</text>
<text x="208.3" y="558.6" font-size="8.5" font-weight="bold" text-anchor="start" fill="#000" textLength="37.7" lengthAdjust="spacingAndGlyphs" stroke="#000" stroke-width="0.55" >BLU/GRN</text>
<text x="315.2" y="558.6" font-size="8.5" font-weight="bold" text-anchor="start" fill="#000" textLength="36.8" lengthAdjust="spacingAndGlyphs" stroke="#000" stroke-width="0.55" >GRY/BLK</text>
<text x="240.7" y="582.5" font-size="10.5" font-weight="bold" text-anchor="start" fill="#000" stroke="#000" stroke-width="0.4" >9</text>
<text x="347.6" y="576.5" font-size="10.5" font-weight="bold" text-anchor="start" fill="#000" stroke="#000" stroke-width="0.4" >8</text>
<text x="375.6" y="581" font-size="10.5" font-weight="bold" text-anchor="start" fill="#000" textLength="26" lengthAdjust="spacingAndGlyphs" stroke="#000" stroke-width="0.4" >C506</text>
<text x="208.8" y="601.9" font-size="8.5" font-weight="bold" text-anchor="start" fill="#000" textLength="37.2" lengthAdjust="spacingAndGlyphs" stroke="#000" stroke-width="0.55" >BLU/GRN</text>
<text x="315.8" y="601.9" font-size="8.5" font-weight="bold" text-anchor="start" fill="#000" textLength="36.8" lengthAdjust="spacingAndGlyphs" stroke="#000" stroke-width="0.55" >GRY/BLK</text>
<text x="241.5" y="621.5" font-size="10.5" font-weight="bold" text-anchor="start" fill="#000" stroke="#000" stroke-width="0.4" >2</text>
<text x="270.6" y="622" font-size="10.5" font-weight="bold" text-anchor="start" fill="#000" textLength="33" lengthAdjust="spacingAndGlyphs" stroke="#000" stroke-width="0.4" >C602F</text>
<text x="88.9" y="651" font-size="8.5" font-weight="bold" text-anchor="start" fill="#000" textLength="35" lengthAdjust="spacingAndGlyphs" stroke="#000" stroke-width="0.55" >RED/BLU</text>
<text x="115" y="666.5" font-size="10.5" font-weight="bold" text-anchor="start" fill="#000" stroke="#000" stroke-width="0.4" >2</text>
<text x="143.5" y="667" font-size="10.5" font-weight="bold" text-anchor="start" fill="#000" textLength="20.2" lengthAdjust="spacingAndGlyphs" stroke="#000" stroke-width="0.4" >C60</text>
<text x="105.6" y="676.3" font-size="8" font-weight="bold" text-anchor="start" fill="#000" textLength="17.8" lengthAdjust="spacingAndGlyphs" stroke="#000" stroke-width="0.55" >WHT</text>
<text x="166.5" y="686" font-size="11" font-weight="bold" text-anchor="start" fill="#000" textLength="27" lengthAdjust="spacingAndGlyphs" stroke="#000" stroke-width="0.4" >LEFT</text>
<text x="166.5" y="696.8" font-size="11" font-weight="bold" text-anchor="start" fill="#000" textLength="52.5" lengthAdjust="spacingAndGlyphs" stroke="#000" stroke-width="0.4" >TWEETER</text>
<text x="108.5" y="735.2" font-size="8" font-weight="bold" text-anchor="start" fill="#000" textLength="14.8" lengthAdjust="spacingAndGlyphs" stroke="#000" stroke-width="0.55" >BLK</text>
<text x="116.5" y="748" font-size="10.5" font-weight="bold" text-anchor="start" fill="#000" stroke="#000" stroke-width="0.4" >1</text>
<text x="142.3" y="748.2" font-size="10.5" font-weight="bold" text-anchor="start" fill="#000" textLength="20.2" lengthAdjust="spacingAndGlyphs" stroke="#000" stroke-width="0.4" >C60</text>
<text x="88.9" y="759.2" font-size="8.5" font-weight="bold" text-anchor="start" fill="#000" textLength="35" lengthAdjust="spacingAndGlyphs" stroke="#000" stroke-width="0.55" >BLU/RED</text>
<text x="210.6" y="663.2" font-size="8.5" font-weight="bold" text-anchor="start" fill="#000" textLength="36.7" lengthAdjust="spacingAndGlyphs" stroke="#000" stroke-width="0.55" >RED/BLU</text>
<text x="268" y="670" font-size="10.5" font-weight="bold" text-anchor="start" fill="#000" textLength="35" lengthAdjust="spacingAndGlyphs" stroke="#000" stroke-width="0.4" >C602M</text>
<text x="236" y="681.5" font-size="10.5" font-weight="bold" text-anchor="start" fill="#000" stroke="#000" stroke-width="0.4" >2</text>
<text x="291.2" y="685.2" font-size="11" font-weight="bold" text-anchor="start" fill="#000" textLength="50" lengthAdjust="spacingAndGlyphs" stroke="#000" stroke-width="0.4" >DRIVER'S</text>
<text x="291.2" y="696.5" font-size="11" font-weight="bold" text-anchor="start" fill="#000" textLength="31.5" lengthAdjust="spacingAndGlyphs" stroke="#000" stroke-width="0.4" >DOOR</text>
<text x="291.2" y="707.8" font-size="11" font-weight="bold" text-anchor="start" fill="#000" textLength="52.4" lengthAdjust="spacingAndGlyphs" stroke="#000" stroke-width="0.4" >SPEAKER</text>
<text x="238.7" y="734.7" font-size="10.5" font-weight="bold" text-anchor="start" fill="#000" stroke="#000" stroke-width="0.4" >1</text>
<text x="267.5" y="744" font-size="10.5" font-weight="bold" text-anchor="start" fill="#000" textLength="35" lengthAdjust="spacingAndGlyphs" stroke="#000" stroke-width="0.4" >C602M</text>
<text x="210.6" y="753.2" font-size="8.5" font-weight="bold" text-anchor="start" fill="#000" textLength="36.4" lengthAdjust="spacingAndGlyphs" stroke="#000" stroke-width="0.55" >BLU/RED</text>
<text x="240" y="793.7" font-size="10.5" font-weight="bold" text-anchor="start" fill="#000" stroke="#000" stroke-width="0.4" >1</text>
<text x="270.3" y="794" font-size="10.5" font-weight="bold" text-anchor="start" fill="#000" textLength="33" lengthAdjust="spacingAndGlyphs" stroke="#000" stroke-width="0.4" >C602F</text>
<text x="549.5" y="496.6" font-size="10.5" font-weight="bold" text-anchor="start" fill="#000" stroke="#000" stroke-width="0.4" >1</text>
<text x="651" y="496.6" font-size="10.5" font-weight="bold" text-anchor="start" fill="#000" stroke="#000" stroke-width="0.4" >9</text>
<text x="677.6" y="492.2" font-size="10.5" font-weight="bold" text-anchor="start" fill="#000" textLength="26.5" lengthAdjust="spacingAndGlyphs" stroke="#000" stroke-width="0.4" >C566</text>
<text x="511" y="515" font-size="8.5" font-weight="bold" text-anchor="start" fill="#000" textLength="38.7" lengthAdjust="spacingAndGlyphs" stroke="#000" stroke-width="0.55" >RED/GRN</text>
<text x="618.8" y="515.9" font-size="8.5" font-weight="bold" text-anchor="start" fill="#000" textLength="37.2" lengthAdjust="spacingAndGlyphs" stroke="#000" stroke-width="0.55" >BRN/BLK</text>
<text x="545.5" y="536.1" font-size="10.5" font-weight="bold" text-anchor="start" fill="#000" stroke="#000" stroke-width="0.4" >9</text>
<text x="646.4" y="531.3" font-size="10.5" font-weight="bold" text-anchor="start" fill="#000" textLength="11.5" lengthAdjust="spacingAndGlyphs" stroke="#000" stroke-width="0.4" >10</text>
<text x="679.2" y="534.6" font-size="10.5" font-weight="bold" text-anchor="start" fill="#000" textLength="26" lengthAdjust="spacingAndGlyphs" stroke="#000" stroke-width="0.4" >C449</text>
<text x="511" y="559.2" font-size="8.5" font-weight="bold" text-anchor="start" fill="#000" textLength="38.7" lengthAdjust="spacingAndGlyphs" stroke="#000" stroke-width="0.55" >RED/GRN</text>
<text x="618.8" y="559.2" font-size="8.5" font-weight="bold" text-anchor="start" fill="#000" textLength="37.2" lengthAdjust="spacingAndGlyphs" stroke="#000" stroke-width="0.55" >BRN/BLK</text>
<text x="545.5" y="582.7" font-size="10.5" font-weight="bold" text-anchor="start" fill="#000" stroke="#000" stroke-width="0.4" >9</text>
<text x="651" y="577" font-size="10.5" font-weight="bold" text-anchor="start" fill="#000" stroke="#000" stroke-width="0.4" >8</text>
<text x="679" y="581.1" font-size="10.5" font-weight="bold" text-anchor="start" fill="#000" textLength="26" lengthAdjust="spacingAndGlyphs" stroke="#000" stroke-width="0.4" >C401</text>
<text x="513" y="602.2" font-size="8.5" font-weight="bold" text-anchor="start" fill="#000" textLength="38" lengthAdjust="spacingAndGlyphs" stroke="#000" stroke-width="0.55" >RED/GRN</text>
<text x="620.4" y="602.2" font-size="8.5" font-weight="bold" text-anchor="start" fill="#000" textLength="36.8" lengthAdjust="spacingAndGlyphs" stroke="#000" stroke-width="0.55" >BRN/BLK</text>
<text x="543.8" y="621.5" font-size="10.5" font-weight="bold" text-anchor="start" fill="#000" stroke="#000" stroke-width="0.4" >2</text>
<text x="575.5" y="622" font-size="10.5" font-weight="bold" text-anchor="start" fill="#000" textLength="33" lengthAdjust="spacingAndGlyphs" stroke="#000" stroke-width="0.4" >C627F</text>
<text x="390" y="651.5" font-size="8.5" font-weight="bold" text-anchor="start" fill="#000" textLength="36" lengthAdjust="spacingAndGlyphs" stroke="#000" stroke-width="0.55" >RED/BLU</text>
<text x="417.3" y="666.8" font-size="10.5" font-weight="bold" text-anchor="start" fill="#000" stroke="#000" stroke-width="0.4" >2</text>
<text x="446.5" y="667" font-size="10.5" font-weight="bold" text-anchor="start" fill="#000" textLength="18.8" lengthAdjust="spacingAndGlyphs" stroke="#000" stroke-width="0.4" >C61</text>
<text x="407.9" y="676.8" font-size="8" font-weight="bold" text-anchor="start" fill="#000" textLength="17.9" lengthAdjust="spacingAndGlyphs" stroke="#000" stroke-width="0.55" >WHT</text>
<text x="470.9" y="685.9" font-size="11" font-weight="bold" text-anchor="start" fill="#000" textLength="34" lengthAdjust="spacingAndGlyphs" stroke="#000" stroke-width="0.4" >RIGHT</text>
<text x="470.9" y="697.2" font-size="11" font-weight="bold" text-anchor="start" fill="#000" textLength="52.7" lengthAdjust="spacingAndGlyphs" stroke="#000" stroke-width="0.4" >TWEETER</text>
<text x="409.8" y="735.2" font-size="8" font-weight="bold" text-anchor="start" fill="#000" textLength="16" lengthAdjust="spacingAndGlyphs" stroke="#000" stroke-width="0.55" >BLK</text>
<text x="419" y="748.5" font-size="10.5" font-weight="bold" text-anchor="start" fill="#000" stroke="#000" stroke-width="0.4" >1</text>
<text x="446.5" y="748.6" font-size="10.5" font-weight="bold" text-anchor="start" fill="#000" textLength="18.8" lengthAdjust="spacingAndGlyphs" stroke="#000" stroke-width="0.4" >C61</text>
<text x="390" y="758.7" font-size="8.5" font-weight="bold" text-anchor="start" fill="#000" textLength="36.7" lengthAdjust="spacingAndGlyphs" stroke="#000" stroke-width="0.55" >BLU/RED</text>
<text x="515.3" y="663.4" font-size="8.5" font-weight="bold" text-anchor="start" fill="#000" textLength="36.5" lengthAdjust="spacingAndGlyphs" stroke="#000" stroke-width="0.55" >RED/BLU</text>
<text x="571.8" y="670" font-size="10.5" font-weight="bold" text-anchor="start" fill="#000" textLength="35.6" lengthAdjust="spacingAndGlyphs" stroke="#000" stroke-width="0.4" >C627M</text>
<text x="539.8" y="681.5" font-size="10.5" font-weight="bold" text-anchor="start" fill="#000" stroke="#000" stroke-width="0.4" >2</text>
<text x="595.8" y="685.7" font-size="11" font-weight="bold" text-anchor="start" fill="#000" textLength="36" lengthAdjust="spacingAndGlyphs" stroke="#000" stroke-width="0.4" >FRONT</text>
<text x="595.8" y="697" font-size="11" font-weight="bold" text-anchor="start" fill="#000" textLength="48" lengthAdjust="spacingAndGlyphs" stroke="#000" stroke-width="0.4" >PASSEN-</text>
<text x="595.8" y="707.4" font-size="11" font-weight="bold" text-anchor="start" fill="#000" textLength="32" lengthAdjust="spacingAndGlyphs" stroke="#000" stroke-width="0.4" >GER'S</text>
<text x="595.8" y="718.2" font-size="11" font-weight="bold" text-anchor="start" fill="#000" textLength="31.5" lengthAdjust="spacingAndGlyphs" stroke="#000" stroke-width="0.4" >DOOR</text>
<text x="595.8" y="730" font-size="11" font-weight="bold" text-anchor="start" fill="#000" textLength="51.7" lengthAdjust="spacingAndGlyphs" stroke="#000" stroke-width="0.4" >SPEAKER</text>
<text x="542" y="734.3" font-size="10.5" font-weight="bold" text-anchor="start" fill="#000" stroke="#000" stroke-width="0.4" >1</text>
<text x="571.8" y="744.2" font-size="10.5" font-weight="bold" text-anchor="start" fill="#000" textLength="35.6" lengthAdjust="spacingAndGlyphs" stroke="#000" stroke-width="0.4" >C627M</text>
<text x="515.3" y="753" font-size="8.5" font-weight="bold" text-anchor="start" fill="#000" textLength="36.5" lengthAdjust="spacingAndGlyphs" stroke="#000" stroke-width="0.55" >BLU/RED</text>
<text x="545.4" y="792.3" font-size="10.5" font-weight="bold" text-anchor="start" fill="#000" stroke="#000" stroke-width="0.4" >1</text>
<text x="575.5" y="792.4" font-size="10.5" font-weight="bold" text-anchor="start" fill="#000" textLength="33" lengthAdjust="spacingAndGlyphs" stroke="#000" stroke-width="0.4" >C627F</text>
</svg>
</body></html>
